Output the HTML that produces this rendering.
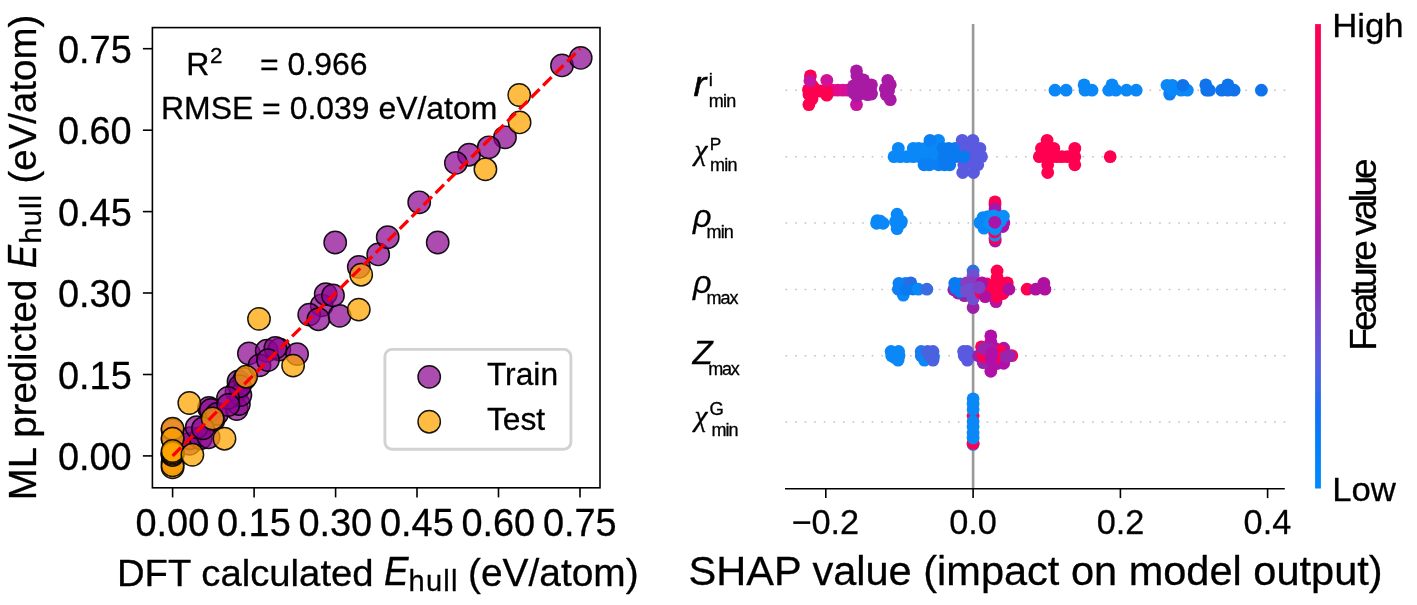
<!DOCTYPE html>
<html lang="en"><head><meta charset="utf-8"><title>ML predicted vs DFT calculated E_hull and SHAP summary</title>
<style>html,body{margin:0;padding:0;background:#fff}body{width:1417px;height:605px;overflow:hidden}svg{display:block}text{font-family:"Liberation Sans", Arial, sans-serif;fill:#000;stroke:#000;stroke-width:0.3px;stroke-linejoin:round}</style>
</head><body>
<svg width="1417" height="605" viewBox="0 0 1417 605">
<rect width="1417" height="605" fill="#fff"/>
<g id="scatter">
<g fill="#8c0691" fill-opacity="0.72" stroke="#000" stroke-opacity="0.9" stroke-width="1.45">
<circle cx="189.5" cy="443.9" r="11.2"/>
<circle cx="189.8" cy="438.2" r="11.2"/>
<circle cx="200.7" cy="438.2" r="11.2"/>
<circle cx="208.6" cy="437.2" r="11.2"/>
<circle cx="196.7" cy="427.3" r="11.2"/>
<circle cx="209.0" cy="408.0" r="11.2"/>
<circle cx="210.9" cy="410.0" r="11.2"/>
<circle cx="213.5" cy="419.9" r="11.2"/>
<circle cx="217.0" cy="413.9" r="11.2"/>
<circle cx="203.0" cy="428.4" r="11.2"/>
<circle cx="238.5" cy="381.4" r="11.2"/>
<circle cx="236.5" cy="391.6" r="11.2"/>
<circle cx="244.5" cy="378.9" r="11.2"/>
<circle cx="172.6" cy="429.9" r="11.2"/>
<circle cx="172.6" cy="438.4" r="11.2"/>
<circle cx="172.6" cy="462.9" r="11.2"/>
<circle cx="172.6" cy="454.9" r="11.2"/>
<circle cx="236.7" cy="409.0" r="11.2"/>
<circle cx="238.9" cy="404.1" r="11.2"/>
<circle cx="240.4" cy="395.1" r="11.2"/>
<circle cx="239.7" cy="386.2" r="11.2"/>
<circle cx="228.0" cy="397.9" r="11.2"/>
<circle cx="228.3" cy="405.0" r="11.2"/>
<circle cx="248.9" cy="353.5" r="11.2"/>
<circle cx="266.7" cy="350.8" r="11.2"/>
<circle cx="279.3" cy="349.5" r="11.2"/>
<circle cx="275.4" cy="347.9" r="11.2"/>
<circle cx="297.1" cy="354.1" r="11.2"/>
<circle cx="259.5" cy="365.4" r="11.2"/>
<circle cx="268.0" cy="360.1" r="11.2"/>
<circle cx="321.7" cy="305.4" r="11.2"/>
<circle cx="309.2" cy="314.6" r="11.2"/>
<circle cx="318.4" cy="319.2" r="11.2"/>
<circle cx="339.6" cy="315.9" r="11.2"/>
<circle cx="325.7" cy="294.1" r="11.2"/>
<circle cx="333.0" cy="295.4" r="11.2"/>
<circle cx="335.2" cy="242.5" r="11.2"/>
<circle cx="437.7" cy="242.5" r="11.2"/>
<circle cx="358.8" cy="266.9" r="11.2"/>
<circle cx="378.2" cy="254.4" r="11.2"/>
<circle cx="387.7" cy="237.2" r="11.2"/>
<circle cx="419.2" cy="202.3" r="11.2"/>
<circle cx="469.0" cy="154.7" r="11.2"/>
<circle cx="455.9" cy="162.9" r="11.2"/>
<circle cx="505.0" cy="137.3" r="11.2"/>
<circle cx="488.8" cy="147.3" r="11.2"/>
<circle cx="562.0" cy="65.4" r="11.2"/>
<circle cx="580.7" cy="57.9" r="11.2"/>
</g>
<g fill="#ffa500" fill-opacity="0.74" stroke="#000" stroke-opacity="0.9" stroke-width="1.45">
<circle cx="172.6" cy="467.4" r="11.2"/>
<circle cx="172.6" cy="465.4" r="11.2"/>
<circle cx="172.6" cy="428.6" r="11.2"/>
<circle cx="172.6" cy="438.6" r="11.2"/>
<circle cx="172.6" cy="455.0" r="11.2"/>
<circle cx="172.6" cy="453.8" r="11.2"/>
<circle cx="172.6" cy="452.6" r="11.2"/>
<circle cx="172.6" cy="451.0" r="11.2"/>
<circle cx="189.3" cy="403.0" r="11.2"/>
<circle cx="212.6" cy="418.5" r="11.2"/>
<circle cx="224.5" cy="438.7" r="11.2"/>
<circle cx="192.4" cy="454.8" r="11.2"/>
<circle cx="246.1" cy="376.7" r="11.2"/>
<circle cx="259.0" cy="318.9" r="11.2"/>
<circle cx="293.1" cy="365.6" r="11.2"/>
<circle cx="361.2" cy="274.7" r="11.2"/>
<circle cx="358.8" cy="309.6" r="11.2"/>
<circle cx="485.4" cy="169.3" r="11.2"/>
<circle cx="519.6" cy="122.4" r="11.2"/>
<circle cx="519.2" cy="95.0" r="11.2"/>
</g>
<line x1="172.6" y1="455.9" x2="580.0" y2="48.7" stroke="#ff0000" stroke-width="3.3" stroke-dasharray="11.85 5.05"/>
</g>
<rect x="152.4" y="27.6" width="447.6" height="460.2" fill="none" stroke="#000" stroke-width="1.6"/>
<g stroke="#000" stroke-width="1.6">
<line x1="172.6" y1="487.9" x2="172.6" y2="497.4"/>
<line x1="142.9" y1="455.9" x2="152.4" y2="455.9"/>
<line x1="254.1" y1="487.9" x2="254.1" y2="497.4"/>
<line x1="142.9" y1="374.5" x2="152.4" y2="374.5"/>
<line x1="335.6" y1="487.9" x2="335.6" y2="497.4"/>
<line x1="142.9" y1="293.0" x2="152.4" y2="293.0"/>
<line x1="417.0" y1="487.9" x2="417.0" y2="497.4"/>
<line x1="142.9" y1="211.6" x2="152.4" y2="211.6"/>
<line x1="498.5" y1="487.9" x2="498.5" y2="497.4"/>
<line x1="142.9" y1="130.2" x2="152.4" y2="130.2"/>
<line x1="580.0" y1="487.9" x2="580.0" y2="497.4"/>
<line x1="142.9" y1="48.7" x2="152.4" y2="48.7"/>
</g>
<text transform="translate(135.49 536.00) scale(1 1.000)" font-size="37.90">0.00</text>
<text transform="translate(57.91 470.20) scale(1 1.000)" font-size="37.90">0.00</text>
<text transform="translate(217.02 536.00) scale(1 1.000)" font-size="37.90">0.15</text>
<text transform="translate(58.00 388.76) scale(1 1.000)" font-size="37.90">0.15</text>
<text transform="translate(298.45 536.00) scale(1 1.000)" font-size="37.90">0.30</text>
<text transform="translate(57.91 307.33) scale(1 1.000)" font-size="37.90">0.30</text>
<text transform="translate(379.98 536.00) scale(1 1.000)" font-size="37.90">0.45</text>
<text transform="translate(58.00 225.90) scale(1 1.000)" font-size="37.90">0.45</text>
<text transform="translate(461.41 536.00) scale(1 1.000)" font-size="37.90">0.60</text>
<text transform="translate(57.91 144.46) scale(1 1.000)" font-size="37.90">0.60</text>
<text transform="translate(542.94 536.00) scale(1 1.000)" font-size="37.90">0.75</text>
<text transform="translate(58.00 63.03) scale(1 1.000)" font-size="37.90">0.75</text>
<text transform="translate(116.94 585.50) scale(1 0.985)" font-size="38.28">DFT calculated</text>
<text transform="translate(384.10 585.30) scale(1 1.090)" font-size="36.74" font-style="italic">E</text>
<text transform="translate(408.47 591.40) scale(1 1.000)" font-size="29.00" letter-spacing="1.31">hull</text>
<text transform="translate(468.07 585.50) scale(1 0.985)" font-size="38.87">(eV/atom)</text>
<text transform="translate(35.50 497.20) rotate(-90) scale(1 1.000)" x="-3.17" font-size="38.41">ML predicted</text>
<text transform="translate(35.50 267.00) rotate(-90) scale(1 1.150)" x="-1.04" font-size="34.57" font-style="italic">E</text>
<text transform="translate(41.40 241.40) rotate(-90) scale(1 1.000)" x="-2.03" font-size="29.00" letter-spacing="1.04">hull</text>
<text transform="translate(35.50 181.10) rotate(-90) scale(1 1.000)" x="-2.40" font-size="38.43">(eV/atom)</text>
<text transform="translate(186.26 75.20) scale(1 1.000)" font-size="32.00">R</text>
<text transform="translate(210.08 62.50) scale(1 1.000)" font-size="22.40">2</text>
<text transform="translate(260.00 75.20) scale(1 1.000)" font-size="31.93">= 0.966</text>
<text transform="translate(160.96 119.30) scale(1 1.000)" font-size="31.94">RMSE = 0.039 eV/atom</text>
<rect x="384.9" y="349.4" width="186" height="99.8" rx="7" ry="7" fill="#fff" fill-opacity="0.8" stroke="#d2d2d2" stroke-width="2.9"/>
<circle cx="429.2" cy="376.9" r="11.2" fill="#8c0691" fill-opacity="0.72" stroke="#000" stroke-opacity="0.9" stroke-width="1.45"/>
<circle cx="429.2" cy="421.7" r="11.2" fill="#ffa500" fill-opacity="0.74" stroke="#000" stroke-opacity="0.9" stroke-width="1.45"/>
<text transform="translate(486.89 385.20) scale(1 0.980)" font-size="31.78">Train</text>
<text transform="translate(486.88 429.80) scale(1 0.980)" font-size="31.79">Test</text>
<g id="shap">
<line x1="785.5" y1="90.2" x2="1285.8" y2="90.2" stroke="#c2c2c2" stroke-width="1.6" stroke-dasharray="1.6 7.98"/>
<line x1="785.5" y1="156.7" x2="1285.8" y2="156.7" stroke="#c2c2c2" stroke-width="1.6" stroke-dasharray="1.6 7.98"/>
<line x1="785.5" y1="223.0" x2="1285.8" y2="223.0" stroke="#c2c2c2" stroke-width="1.6" stroke-dasharray="1.6 7.98"/>
<line x1="785.5" y1="289.5" x2="1285.8" y2="289.5" stroke="#c2c2c2" stroke-width="1.6" stroke-dasharray="1.6 7.98"/>
<line x1="785.5" y1="355.7" x2="1285.8" y2="355.7" stroke="#c2c2c2" stroke-width="1.6" stroke-dasharray="1.6 7.98"/>
<line x1="785.5" y1="422.0" x2="1285.8" y2="422.0" stroke="#c2c2c2" stroke-width="1.6" stroke-dasharray="1.6 7.98"/>
<line x1="973.1" y1="24" x2="973.1" y2="488.8" stroke="#999999" stroke-width="2.6"/>
<circle cx="837.7" cy="90.1" r="6.40" fill="#dd0c90"/>
<circle cx="842.7" cy="90.1" r="6.40" fill="#dd0c90"/>
<circle cx="847.5" cy="90.1" r="6.40" fill="#d40e96"/>
<circle cx="832.5" cy="90.1" r="6.40" fill="#e00a8a"/>
<circle cx="808.9" cy="104.6" r="6.40" fill="#ff0051"/>
<circle cx="808.4" cy="89.8" r="6.40" fill="#ff0051"/>
<circle cx="809.5" cy="95.0" r="6.40" fill="#c4169e"/>
<circle cx="809.0" cy="94.5" r="6.40" fill="#ff0051"/>
<circle cx="813.5" cy="92.5" r="6.40" fill="#ff0051"/>
<circle cx="810.4" cy="75.9" r="6.40" fill="#ff0051"/>
<circle cx="812.5" cy="86.0" r="6.40" fill="#ff0051"/>
<circle cx="812.0" cy="99.0" r="6.40" fill="#ff0051"/>
<circle cx="816.0" cy="90.0" r="6.40" fill="#ff0051"/>
<circle cx="820.0" cy="91.0" r="6.40" fill="#ff0051"/>
<circle cx="809.9" cy="80.8" r="6.40" fill="#c4169e"/>
<circle cx="826.8" cy="95.2" r="6.40" fill="#ff0051"/>
<circle cx="826.8" cy="89.8" r="6.40" fill="#ff0051"/>
<circle cx="826.8" cy="80.3" r="6.40" fill="#d0129a"/>
<circle cx="856.5" cy="104.6" r="6.40" fill="#c5149e"/>
<circle cx="856.5" cy="96.0" r="6.40" fill="#a81aa4"/>
<circle cx="856.5" cy="70.9" r="6.40" fill="#a81aa4"/>
<circle cx="857.0" cy="76.0" r="6.40" fill="#a81aa4"/>
<circle cx="863.5" cy="79.8" r="6.40" fill="#a81aa4"/>
<circle cx="853.6" cy="85.8" r="6.40" fill="#a81aa4"/>
<circle cx="859.5" cy="85.8" r="6.40" fill="#a81aa4"/>
<circle cx="864.5" cy="85.8" r="6.40" fill="#a81aa4"/>
<circle cx="871.4" cy="84.8" r="6.40" fill="#a81aa4"/>
<circle cx="853.6" cy="92.7" r="6.40" fill="#a81aa4"/>
<circle cx="859.5" cy="94.2" r="6.40" fill="#a81aa4"/>
<circle cx="867.5" cy="94.7" r="6.40" fill="#a81aa4"/>
<circle cx="863.0" cy="90.0" r="6.40" fill="#a81aa4"/>
<circle cx="870.5" cy="90.0" r="6.40" fill="#a81aa4"/>
<circle cx="871.5" cy="94.0" r="6.40" fill="#a81aa4"/>
<circle cx="887.8" cy="80.3" r="6.40" fill="#a81aa4"/>
<circle cx="890.3" cy="84.8" r="6.40" fill="#a81aa4"/>
<circle cx="885.3" cy="88.8" r="6.40" fill="#a81aa4"/>
<circle cx="886.3" cy="94.7" r="6.40" fill="#a81aa4"/>
<circle cx="890.3" cy="99.7" r="6.40" fill="#a81aa4"/>
<circle cx="888.5" cy="91.0" r="6.40" fill="#a81aa4"/>
<circle cx="1055.0" cy="90.2" r="6.40" fill="#0a88f7"/>
<circle cx="1066.1" cy="90.2" r="6.40" fill="#0a88f7"/>
<circle cx="1084.1" cy="84.9" r="6.40" fill="#0a88f7"/>
<circle cx="1085.0" cy="90.2" r="6.40" fill="#0a88f7"/>
<circle cx="1092.0" cy="90.2" r="6.40" fill="#0a88f7"/>
<circle cx="1108.8" cy="90.2" r="6.40" fill="#0a88f7"/>
<circle cx="1112.0" cy="84.9" r="6.40" fill="#0a88f7"/>
<circle cx="1115.9" cy="90.2" r="6.40" fill="#0a88f7"/>
<circle cx="1126.5" cy="90.2" r="6.40" fill="#0a88f7"/>
<circle cx="1136.2" cy="90.2" r="6.40" fill="#0a88f7"/>
<circle cx="1167.0" cy="85.3" r="6.40" fill="#0a88f7"/>
<circle cx="1169.7" cy="94.1" r="6.40" fill="#0b7ef2"/>
<circle cx="1172.3" cy="90.2" r="6.40" fill="#0a88f7"/>
<circle cx="1172.3" cy="85.3" r="6.40" fill="#0a88f7"/>
<circle cx="1181.1" cy="90.2" r="6.40" fill="#0a88f7"/>
<circle cx="1187.3" cy="90.2" r="6.40" fill="#0a88f7"/>
<circle cx="1182.9" cy="85.3" r="6.40" fill="#0f74ec"/>
<circle cx="1205.8" cy="84.9" r="6.40" fill="#0f74ec"/>
<circle cx="1206.7" cy="90.2" r="6.40" fill="#0f74ec"/>
<circle cx="1209.4" cy="90.2" r="6.40" fill="#0f74ec"/>
<circle cx="1221.7" cy="90.2" r="6.40" fill="#0f74ec"/>
<circle cx="1227.9" cy="84.9" r="6.40" fill="#0f74ec"/>
<circle cx="1227.9" cy="90.2" r="6.40" fill="#0f74ec"/>
<circle cx="1234.1" cy="90.2" r="6.40" fill="#0f74ec"/>
<circle cx="1261.4" cy="90.2" r="6.40" fill="#0f74ec"/>
<circle cx="894.0" cy="156.7" r="6.40" fill="#0a88f7"/>
<circle cx="900.4" cy="156.7" r="6.40" fill="#0a88f7"/>
<circle cx="906.9" cy="156.7" r="6.40" fill="#0a88f7"/>
<circle cx="913.3" cy="156.7" r="6.40" fill="#0a88f7"/>
<circle cx="919.7" cy="156.7" r="6.40" fill="#0a88f7"/>
<circle cx="926.2" cy="156.7" r="6.40" fill="#0a88f7"/>
<circle cx="932.6" cy="156.7" r="6.40" fill="#0a88f7"/>
<circle cx="939.1" cy="156.7" r="6.40" fill="#0a88f7"/>
<circle cx="898.3" cy="148.4" r="6.40" fill="#0a88f7"/>
<circle cx="913.3" cy="148.4" r="6.40" fill="#0a88f7"/>
<circle cx="918.7" cy="148.4" r="6.40" fill="#0a88f7"/>
<circle cx="925.1" cy="148.4" r="6.40" fill="#0a88f7"/>
<circle cx="931.6" cy="148.4" r="6.40" fill="#0a88f7"/>
<circle cx="924.0" cy="164.8" r="6.40" fill="#0a80f4"/>
<circle cx="929.4" cy="164.8" r="6.40" fill="#0a80f4"/>
<circle cx="938.5" cy="164.8" r="6.40" fill="#0a80f4"/>
<circle cx="938.5" cy="140.3" r="6.40" fill="#0a88f7"/>
<circle cx="930.0" cy="140.3" r="6.40" fill="#0a80f4"/>
<circle cx="948.7" cy="148.4" r="6.40" fill="#0a7af0"/>
<circle cx="955.2" cy="148.4" r="6.40" fill="#0a7af0"/>
<circle cx="943.0" cy="148.4" r="6.40" fill="#0a7af0"/>
<circle cx="944.5" cy="164.8" r="6.40" fill="#0a7af0"/>
<circle cx="949.8" cy="164.8" r="6.40" fill="#0a7af0"/>
<circle cx="944.0" cy="156.7" r="6.40" fill="#0a7af0"/>
<circle cx="948.7" cy="156.7" r="6.40" fill="#0a7af0"/>
<circle cx="955.2" cy="156.7" r="6.40" fill="#0a7af0"/>
<circle cx="962.2" cy="140.3" r="6.40" fill="#5a5ae0"/>
<circle cx="972.9" cy="140.3" r="6.40" fill="#5a5ae0"/>
<circle cx="962.7" cy="172.5" r="6.40" fill="#5a5ae0"/>
<circle cx="973.5" cy="172.5" r="6.40" fill="#5a5ae0"/>
<circle cx="965.9" cy="148.4" r="6.40" fill="#5a5ae0"/>
<circle cx="972.4" cy="148.4" r="6.40" fill="#5a5ae0"/>
<circle cx="979.9" cy="148.4" r="6.40" fill="#5a5ae0"/>
<circle cx="963.8" cy="164.8" r="6.40" fill="#5a5ae0"/>
<circle cx="973.5" cy="164.8" r="6.40" fill="#5a5ae0"/>
<circle cx="977.8" cy="164.8" r="6.40" fill="#5a5ae0"/>
<circle cx="972.4" cy="156.7" r="6.40" fill="#5a5ae0"/>
<circle cx="981.5" cy="156.7" r="6.40" fill="#5a5ae0"/>
<circle cx="966.0" cy="156.7" r="6.40" fill="#5a5ae0"/>
<circle cx="963.8" cy="156.7" r="6.40" fill="#0a7af0"/>
<circle cx="1047.1" cy="140.3" r="6.40" fill="#ff0051"/>
<circle cx="1041.5" cy="148.4" r="6.40" fill="#ff0051"/>
<circle cx="1047.5" cy="148.4" r="6.40" fill="#ff0051"/>
<circle cx="1053.8" cy="148.4" r="6.40" fill="#ff0051"/>
<circle cx="1074.8" cy="148.4" r="6.40" fill="#ff0051"/>
<circle cx="1039.3" cy="156.7" r="6.40" fill="#ff0051"/>
<circle cx="1045.5" cy="156.7" r="6.40" fill="#ff0051"/>
<circle cx="1052.2" cy="156.7" r="6.40" fill="#ff0051"/>
<circle cx="1057.0" cy="156.7" r="6.40" fill="#ff0051"/>
<circle cx="1061.9" cy="156.7" r="6.40" fill="#ff0051"/>
<circle cx="1067.3" cy="156.7" r="6.40" fill="#ff0051"/>
<circle cx="1074.8" cy="156.7" r="6.40" fill="#ff0051"/>
<circle cx="1047.7" cy="164.8" r="6.40" fill="#ff0051"/>
<circle cx="1074.8" cy="164.8" r="6.40" fill="#ff0051"/>
<circle cx="1047.7" cy="172.5" r="6.40" fill="#ff0051"/>
<circle cx="1110.2" cy="156.7" r="6.40" fill="#ff0051"/>
<circle cx="877.2" cy="220.6" r="6.40" fill="#0a88f7"/>
<circle cx="876.6" cy="223.3" r="6.40" fill="#0a88f7"/>
<circle cx="883.1" cy="223.3" r="6.40" fill="#0a88f7"/>
<circle cx="880.4" cy="221.2" r="6.40" fill="#0a88f7"/>
<circle cx="897.1" cy="214.2" r="6.40" fill="#0a88f7"/>
<circle cx="897.1" cy="228.7" r="6.40" fill="#0a88f7"/>
<circle cx="895.4" cy="221.7" r="6.40" fill="#0a88f7"/>
<circle cx="901.4" cy="221.2" r="6.40" fill="#0a88f7"/>
<circle cx="900.8" cy="223.3" r="6.40" fill="#0a88f7"/>
<circle cx="995.0" cy="201.9" r="6.40" fill="#ff0051"/>
<circle cx="995.0" cy="205.0" r="6.40" fill="#ff0051"/>
<circle cx="995.0" cy="208.9" r="6.40" fill="#aa14a8"/>
<circle cx="995.2" cy="241.0" r="6.40" fill="#aa14a8"/>
<circle cx="995.0" cy="238.3" r="6.40" fill="#ff0051"/>
<circle cx="995.0" cy="235.1" r="6.40" fill="#0a90f8"/>
<circle cx="994.6" cy="231.9" r="6.40" fill="#ff0051"/>
<circle cx="995.0" cy="229.0" r="6.40" fill="#0a90f8"/>
<circle cx="979.8" cy="222.6" r="6.40" fill="#0a88f7"/>
<circle cx="983.0" cy="217.6" r="6.40" fill="#0a88f7"/>
<circle cx="984.0" cy="228.2" r="6.40" fill="#0a88f7"/>
<circle cx="987.2" cy="222.6" r="6.40" fill="#0a88f7"/>
<circle cx="988.0" cy="216.6" r="6.40" fill="#0a88f7"/>
<circle cx="1003.9" cy="222.8" r="6.40" fill="#aa14a8"/>
<circle cx="1002.8" cy="226.5" r="6.40" fill="#aa14a8"/>
<circle cx="993.7" cy="215.8" r="6.40" fill="#0a90f8"/>
<circle cx="1003.4" cy="216.2" r="6.40" fill="#0a90f8"/>
<circle cx="1000.5" cy="221.0" r="6.40" fill="#0a90f8"/>
<circle cx="990.0" cy="223.0" r="6.40" fill="#0a90f8"/>
<circle cx="996.0" cy="227.0" r="6.40" fill="#0a90f8"/>
<circle cx="994.8" cy="222.3" r="6.40" fill="#aa14a8"/>
<circle cx="903.3" cy="295.1" r="6.40" fill="#0a88f7"/>
<circle cx="899.0" cy="283.3" r="6.40" fill="#0a80f4"/>
<circle cx="898.4" cy="289.2" r="6.40" fill="#0a80f4"/>
<circle cx="905.5" cy="283.5" r="6.40" fill="#0a80f4"/>
<circle cx="906.5" cy="289.2" r="6.40" fill="#0a7af0"/>
<circle cx="910.8" cy="282.8" r="6.40" fill="#2a6ce6"/>
<circle cx="913.0" cy="289.0" r="6.40" fill="#0a7af0"/>
<circle cx="918.3" cy="289.2" r="6.40" fill="#0a88f7"/>
<circle cx="926.9" cy="289.2" r="6.40" fill="#3a6be0"/>
<circle cx="953.8" cy="289.8" r="6.40" fill="#9a20a8"/>
<circle cx="964.5" cy="295.7" r="6.40" fill="#9a20a8"/>
<circle cx="958.0" cy="293.0" r="6.40" fill="#9a20a8"/>
<circle cx="954.8" cy="283.3" r="6.40" fill="#0a7af0"/>
<circle cx="960.2" cy="283.9" r="6.40" fill="#0a7af0"/>
<circle cx="960.2" cy="291.4" r="6.40" fill="#0a7af0"/>
<circle cx="955.5" cy="288.0" r="6.40" fill="#0a7af0"/>
<circle cx="973.1" cy="271.0" r="6.40" fill="#2f6fe0"/>
<circle cx="973.1" cy="307.5" r="6.40" fill="#9a20a8"/>
<circle cx="973.1" cy="275.3" r="6.40" fill="#7050d0"/>
<circle cx="973.1" cy="298.9" r="6.40" fill="#7050d0"/>
<circle cx="972.0" cy="282.5" r="6.40" fill="#8a3cc0"/>
<circle cx="966.5" cy="283.0" r="6.40" fill="#8a3cc0"/>
<circle cx="970.9" cy="289.2" r="6.40" fill="#7050d0"/>
<circle cx="966.0" cy="291.0" r="6.40" fill="#7050d0"/>
<circle cx="997.1" cy="271.0" r="6.40" fill="#ff0051"/>
<circle cx="997.1" cy="277.5" r="6.40" fill="#ff0051"/>
<circle cx="996.0" cy="301.6" r="6.40" fill="#b814a0"/>
<circle cx="983.6" cy="290.3" r="6.40" fill="#ff0051"/>
<circle cx="987.0" cy="284.0" r="6.40" fill="#ff0051"/>
<circle cx="990.0" cy="292.0" r="6.40" fill="#ff0051"/>
<circle cx="981.0" cy="293.0" r="6.40" fill="#ff0051"/>
<circle cx="985.2" cy="296.7" r="6.40" fill="#b010a0"/>
<circle cx="982.0" cy="282.8" r="6.40" fill="#b010a0"/>
<circle cx="979.0" cy="287.5" r="6.40" fill="#8040c8"/>
<circle cx="997.1" cy="284.0" r="6.40" fill="#ff0051"/>
<circle cx="997.1" cy="290.5" r="6.40" fill="#ff0051"/>
<circle cx="997.1" cy="296.7" r="6.40" fill="#ff0051"/>
<circle cx="1003.0" cy="293.5" r="6.40" fill="#ff0051"/>
<circle cx="1007.3" cy="282.8" r="6.40" fill="#ff0051"/>
<circle cx="1002.5" cy="283.5" r="6.40" fill="#ff0051"/>
<circle cx="1008.9" cy="289.2" r="6.40" fill="#b010a0"/>
<circle cx="1027.1" cy="289.2" r="6.40" fill="#ff0051"/>
<circle cx="1035.7" cy="289.2" r="6.40" fill="#b010a0"/>
<circle cx="1043.8" cy="283.3" r="6.40" fill="#b010a0"/>
<circle cx="1044.9" cy="289.2" r="6.40" fill="#b010a0"/>
<circle cx="891.1" cy="351.5" r="6.40" fill="#0a88f7"/>
<circle cx="898.6" cy="351.5" r="6.40" fill="#0a88f7"/>
<circle cx="891.7" cy="355.8" r="6.40" fill="#0a88f7"/>
<circle cx="898.1" cy="360.1" r="6.40" fill="#0a88f7"/>
<circle cx="899.0" cy="355.5" r="6.40" fill="#0a88f7"/>
<circle cx="894.5" cy="357.5" r="6.40" fill="#0a88f7"/>
<circle cx="921.2" cy="351.5" r="6.40" fill="#1a7cee"/>
<circle cx="921.2" cy="355.8" r="6.40" fill="#1a7cee"/>
<circle cx="924.4" cy="360.1" r="6.40" fill="#0a88f7"/>
<circle cx="933.5" cy="356.5" r="6.40" fill="#0a88f7"/>
<circle cx="927.6" cy="351.5" r="6.40" fill="#4a62de"/>
<circle cx="933.0" cy="351.5" r="6.40" fill="#4a62de"/>
<circle cx="933.0" cy="360.1" r="6.40" fill="#4a62de"/>
<circle cx="929.5" cy="355.8" r="6.40" fill="#4a62de"/>
<circle cx="963.6" cy="351.5" r="6.40" fill="#5a5ae0"/>
<circle cx="967.4" cy="351.5" r="6.40" fill="#5a5ae0"/>
<circle cx="964.2" cy="355.8" r="6.40" fill="#5a5ae0"/>
<circle cx="967.4" cy="360.1" r="6.40" fill="#5a5ae0"/>
<circle cx="969.5" cy="355.8" r="6.40" fill="#5a5ae0"/>
<circle cx="981.5" cy="346.8" r="6.40" fill="#ff0051"/>
<circle cx="1011.8" cy="355.6" r="6.40" fill="#ff0051"/>
<circle cx="978.5" cy="355.8" r="6.40" fill="#9a20a8"/>
<circle cx="990.8" cy="335.9" r="6.40" fill="#b010a8"/>
<circle cx="990.8" cy="342.3" r="6.40" fill="#b010a8"/>
<circle cx="990.8" cy="371.3" r="6.40" fill="#b010a8"/>
<circle cx="990.8" cy="366.0" r="6.40" fill="#b010a8"/>
<circle cx="1003.7" cy="348.2" r="6.40" fill="#b010a8"/>
<circle cx="1003.7" cy="363.3" r="6.40" fill="#b010a8"/>
<circle cx="997.0" cy="363.5" r="6.40" fill="#b010a8"/>
<circle cx="996.0" cy="349.0" r="6.40" fill="#b010a8"/>
<circle cx="983.3" cy="362.7" r="6.40" fill="#9a24ae"/>
<circle cx="983.0" cy="355.6" r="6.40" fill="#ff0051"/>
<circle cx="987.0" cy="357.5" r="6.40" fill="#ff0051"/>
<circle cx="999.8" cy="350.8" r="6.40" fill="#ff0051"/>
<circle cx="996.0" cy="357.0" r="6.40" fill="#ff0051"/>
<circle cx="1000.5" cy="355.0" r="6.40" fill="#ff0051"/>
<circle cx="983.8" cy="348.6" r="6.40" fill="#9a24ae"/>
<circle cx="990.3" cy="349.5" r="6.40" fill="#9a24ae"/>
<circle cx="991.0" cy="359.5" r="6.40" fill="#b010a8"/>
<circle cx="1006.0" cy="357.0" r="6.40" fill="#9a24ae"/>
<circle cx="1009.6" cy="355.8" r="6.40" fill="#9a24ae"/>
<circle cx="992.0" cy="353.0" r="6.40" fill="#b010a8"/>
<circle cx="973.1" cy="398.8" r="6.40" fill="#0a88f7"/>
<circle cx="973.1" cy="404.0" r="6.40" fill="#0a88f7"/>
<circle cx="973.1" cy="415.7" r="6.40" fill="#ff0051"/>
<circle cx="973.1" cy="409.6" r="6.40" fill="#0a88f7"/>
<circle cx="973.1" cy="421.6" r="6.40" fill="#0a88f7"/>
<circle cx="973.1" cy="427.0" r="6.40" fill="#0a88f7"/>
<circle cx="973.1" cy="433.0" r="6.40" fill="#0a88f7"/>
<circle cx="973.1" cy="444.4" r="6.40" fill="#0a88f7"/>
<circle cx="973.1" cy="443.4" r="6.40" fill="#ff0051"/>
<circle cx="973.1" cy="438.0" r="6.40" fill="#0a88f7"/>
<line x1="785.0" y1="488.8" x2="1284.8" y2="488.8" stroke="#000" stroke-width="1.6"/>
<g stroke="#000" stroke-width="1.6">
<line x1="825.8" y1="488.8" x2="825.8" y2="498.1"/>
<line x1="973.1" y1="488.8" x2="973.1" y2="498.1"/>
<line x1="1120.4" y1="488.8" x2="1120.4" y2="498.1"/>
<line x1="1267.6" y1="488.8" x2="1267.6" y2="498.1"/>
</g>
<text transform="translate(791.41 533.60) scale(1 1.000)" font-size="34.30" fill="#262626" style="stroke:#262626;">−0.2</text>
<text transform="translate(949.22 533.60) scale(1 1.000)" font-size="34.30" fill="#262626" style="stroke:#262626;">0.0</text>
<text transform="translate(1096.69 533.60) scale(1 1.000)" font-size="34.30" fill="#262626" style="stroke:#262626;">0.2</text>
<text transform="translate(1243.57 533.60) scale(1 1.000)" font-size="34.30" fill="#262626" style="stroke:#262626;">0.4</text>
<text transform="translate(688.53 584.50) scale(1 1.000)" font-size="41.54">SHAP value (impact on model output)</text>
</g>
<text transform="translate(693.53 96.10) scale(1 0.900)" font-size="38.29" font-style="italic" style="stroke-width:0.55px;">r</text>
<text transform="translate(708.65 85.70) scale(1 1.000)" font-size="18.50">i</text>
<text transform="translate(708.68 106.70) scale(1 1.000)" font-size="18.00" letter-spacing="-0.65">min</text>
<text transform="translate(694.46 160.40) scale(1 0.980)" font-size="29.44" font-style="italic" style="font-family:'Liberation Serif','DejaVu Serif',serif;">χ</text>
<text transform="translate(709.77 150.00) scale(1 1.000)" font-size="17.30">P</text>
<text transform="translate(709.99 170.70) scale(1 1.000)" font-size="18.00" letter-spacing="-0.75">min</text>
<text transform="translate(693.01 227.20) scale(1 1.000)" font-size="32.30" font-style="italic">ρ</text>
<text transform="translate(706.58 237.60) scale(1 1.000)" font-size="18.00" letter-spacing="-0.85">min</text>
<text transform="translate(693.01 293.30) scale(1 1.000)" font-size="32.30" font-style="italic">ρ</text>
<text transform="translate(706.58 303.90) scale(1 1.000)" font-size="18.00" letter-spacing="-0.99">max</text>
<text transform="translate(692.56 364.10) scale(1 1.020)" font-size="33.00" font-style="italic">Z</text>
<text transform="translate(708.28 374.60) scale(1 1.000)" font-size="18.00" letter-spacing="-1.24">max</text>
<text transform="translate(694.46 425.50) scale(1 0.980)" font-size="29.44" font-style="italic" style="font-family:'Liberation Serif','DejaVu Serif',serif;">χ</text>
<text transform="translate(709.38 414.90) scale(1 1.000)" font-size="18.50">G</text>
<text transform="translate(711.38 435.60) scale(1 1.000)" font-size="18.00" letter-spacing="-0.95">min</text>
<defs><linearGradient id="cb" x1="0" y1="0" x2="0" y2="1"><stop offset="0" stop-color="#ff0051"/><stop offset="0.2" stop-color="#e8067f"/><stop offset="0.35" stop-color="#c8149a"/><stop offset="0.5" stop-color="#a01eb0"/><stop offset="0.62" stop-color="#7a44cc"/><stop offset="0.72" stop-color="#5a5ae0"/><stop offset="0.78" stop-color="#3a66ea"/><stop offset="0.83" stop-color="#1470f4"/><stop offset="0.9" stop-color="#047ef8"/><stop offset="1" stop-color="#008bfb"/></linearGradient></defs>
<rect x="1315.1" y="24.1" width="5.8" height="464.4" fill="url(#cb)"/>
<text transform="translate(1332.13 36.70) scale(1 0.970)" font-size="34.81">High</text>
<text transform="translate(1332.13 500.70) scale(1 0.980)" font-size="34.76">Low</text>
<text transform="translate(1376.20 347.60) rotate(-90) scale(1 1.000)" x="-3.05" font-size="37.00" letter-spacing="-2.84">Feature value</text>
</svg></body></html>
